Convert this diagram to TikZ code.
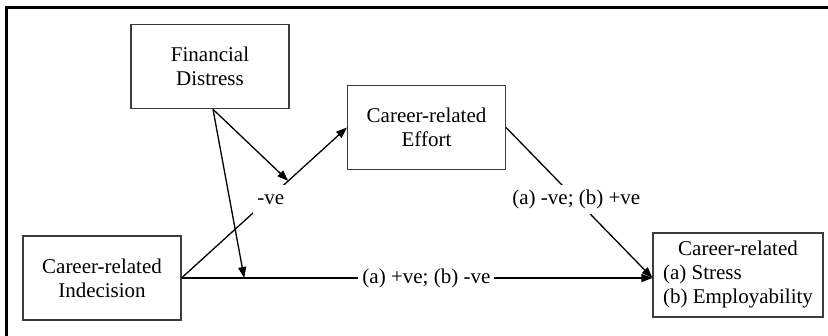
\documentclass[tikz,border=0pt]{standalone}
\usepackage{fontspec}
\setmainfont{Liberation Serif}
\usetikzlibrary{arrows.meta, calc}
\definecolor{boxgray}{RGB}{60, 60, 60}
\tikzset{
  >=Triangle,
  varbox/.style={draw=boxgray, line width=0.55pt, minimum width=79pt, minimum height=42pt, align=center, inner sep=2pt},
  patharrow/.style={-{Triangle[length=5.5pt, width=4pt]}, line width=0.65pt, black},
  pathlabel/.style={fill=white, inner xsep=2pt, inner ysep=1pt, minimum height=14.5pt}
}

\begin{document}
\begin{tikzpicture}[x=0.5pt, y=-0.5pt, font=\fontsize{10.5}{12}\selectfont]
    \useasboundingbox (0,0) rectangle (828,336);
    \draw[line width=1.5pt] (6.5,345) -- (6.5,7.5) -- (840,7.5);

    \node (fin) [varbox] at (210, 66.75) {Financial\\Distress};
    \node (indec) [varbox] at (102, 278) {Career-related\\Indecision};
    \node (effort) [varbox] at (426.5, 127.5) {Career-related\\Effort};
    \node (outc) [varbox, minimum width=85pt] at (738, 275) {\begin{tabular}{@{}l@{}}\multicolumn{1}{@{}c@{}}{Career-related}\\(a) Stress\\(b) Employability\end{tabular}};

    \coordinate (tip) at (indec.east -| outc.west);
    \coordinate (fsrc) at ($(fin.south)+(3,0)$);
    \path (indec.east) -- (effort.west) coordinate[pos=0.645] (mod1);
    \path (indec.east) -- (tip) coordinate[pos=0.133] (mod2);

    \draw[patharrow] (indec.east) -- node[pathlabel, pos=0.54, yshift=-1.5pt] {-ve} (effort.west);
    \draw[patharrow] (indec.east) -- node[pathlabel, pos=0.52] {(a) +ve; (b) -ve} (tip);
    \draw[patharrow] (effort.east) -- node[pathlabel, pos=0.48] {(a) -ve; (b) +ve} (tip);
    \draw[patharrow] (fsrc) -- (mod1);
    \draw[patharrow] (fsrc) -- (mod2);
\end{tikzpicture}
\end{document}
